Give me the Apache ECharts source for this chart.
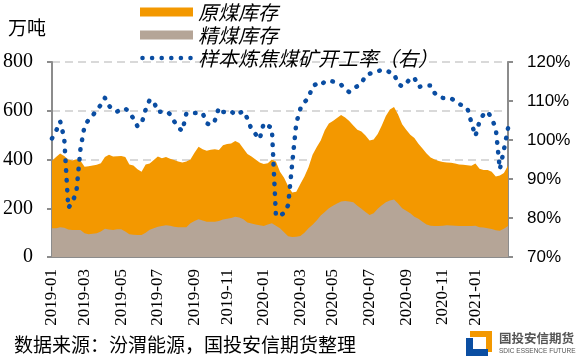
<!DOCTYPE html>
<html>
<head>
<meta charset="utf-8">
<script src="https://cdn.jsdelivr.net/npm/echarts@6/dist/echarts.min.js"></script>
<style>
html,body{margin:0;padding:0;background:#fff;}
#c{width:576px;height:363px;}
</style>
</head>
<body>
<div id="c"></div>
<script>
// weekly dates
var dates = [
'2019-01-04','2019-01-11','2019-01-18','2019-01-25','2019-02-01','2019-02-08','2019-02-15','2019-02-22',
'2019-03-01','2019-03-08','2019-03-15','2019-03-22','2019-03-29','2019-04-05','2019-04-12','2019-04-19','2019-04-26',
'2019-05-03','2019-05-10','2019-05-17','2019-05-24','2019-05-31','2019-06-07','2019-06-14','2019-06-21','2019-06-28',
'2019-07-05','2019-07-12','2019-07-19','2019-07-26','2019-08-02','2019-08-09','2019-08-16','2019-08-23','2019-08-30',
'2019-09-06','2019-09-13','2019-09-20','2019-09-27','2019-10-04','2019-10-11','2019-10-18','2019-10-25',
'2019-11-01','2019-11-08','2019-11-15','2019-11-22','2019-11-29','2019-12-06','2019-12-13','2019-12-20','2019-12-27',
'2020-01-03','2020-01-10','2020-01-17','2020-01-24','2020-01-31','2020-02-07','2020-02-14','2020-02-21','2020-02-28',
'2020-03-06','2020-03-13','2020-03-20','2020-03-27','2020-04-03','2020-04-10','2020-04-17','2020-04-24',
'2020-05-01','2020-05-08','2020-05-15','2020-05-22','2020-05-29','2020-06-05','2020-06-12','2020-06-19','2020-06-26',
'2020-07-03','2020-07-10','2020-07-17','2020-07-24','2020-07-31','2020-08-07','2020-08-14','2020-08-21','2020-08-28',
'2020-09-04','2020-09-11','2020-09-18','2020-09-25','2020-10-02','2020-10-09','2020-10-16','2020-10-23','2020-10-30',
'2020-11-06','2020-11-13','2020-11-20','2020-11-27','2020-12-04','2020-12-11','2020-12-18','2020-12-25',
'2021-01-01','2021-01-08','2021-01-15','2021-01-22','2021-01-29','2021-02-05','2021-02-12','2021-02-19','2021-02-26'
];
// 原煤库存 (万吨)
var rawCoal = [
395,410,425,414,400,396,401,395,370,372,375,378,385,410,420,412,413,414,410,380,375,360,350,380,384,398,412,405,410,403,
398,392,388,392,400,428,452,442,436,440,442,439,458,464,466,476,468,445,423,412,400,388,382,385,400,392,350,325,290,265,
268,300,330,368,420,450,478,520,548,558,570,583,572,558,540,522,515,498,478,482,505,540,578,605,615,585,545,522,502,488,
465,445,425,408,400,394,390,388,387,384,380,378,376,374,384,362,357,357,350,330,334,345,375
];
// 精煤库存 (万吨)
var cleanCoal = [
118,118,122,120,113,111,111,111,97,93,95,97,105,116,113,111,114,114,105,93,91,90,90,100,112,118,124,127,130,128,
124,122,122,122,138,148,155,150,145,145,145,148,154,157,160,165,162,155,142,137,133,130,127,133,138,128,118,102,85,82,
83,86,100,118,132,150,170,185,200,210,220,228,230,228,225,210,198,185,172,180,198,212,225,232,236,220,200,190,180,165,
157,145,133,128,127,127,128,130,129,128,127,127,127,127,128,122,121,118,115,110,108,116,127
];
// 样本炼焦煤矿开工率 (%)
var rate = [
100.4,102.3,104.8,100.5,82.6,84.0,86.8,97.8,103.6,105.2,106.3,107.7,109.0,110.8,108.8,107.6,107.3,107.8,108.1,107.1,
105.5,103.5,104.2,107.8,110.3,109.9,107.2,107.3,107.4,106.6,104.8,103.2,102.3,106.8,107.0,106.9,106.9,106.9,104.3,103.8,
105.0,108.3,107.2,107.1,107.4,106.4,106.9,107.4,105.5,102.7,101.5,100.2,104.3,103.7,103.1,80.5,80.6,81.3,83.3,94.0,
104.3,108.0,109.7,110.8,113.8,114.4,114.0,115.0,115.2,115.0,114.6,114.2,113.0,112.3,113.2,113.8,114.5,116.5,117.0,117.3,
117.6,118.0,117.8,117.4,117.0,114.4,113.7,114.5,115.8,116.0,113.6,113.8,114.0,114.0,112.0,111.0,110.8,110.8,110.7,110.0,
109.2,108.8,108.2,104.5,101.0,104.8,106.6,107.3,105.5,103.0,92.5,97.5,103.0
];
var leftTicks = [0, 800, 200];
var rightTicks = [70, 120, 10];
var names = ['原煤库存', '精煤库存', '样本炼焦煤矿开工率（右）'];
var sourceText = '数据来源：汾渭能源，国投安信期货整理';

var ORANGE = '#F39800', BROWN = '#B5A597', BLUE = '#0A4DA2', AXIS = '#8C8C8C';

// legend icon: a row of six round dots (box 53 x 9)
function dotsIcon() {
  var r = 2.3, p = 'M0 0h0.01v0.01zM52.99 8.99h0.01v0.01z';
  for (var k = 0; k < 6; k++) {
    var cx = 2.5 + k * 9.6;
    p += 'M' + (cx - r) + ' 4.5a' + r + ' ' + r + ' 0 1 0 ' + (2 * r) + ' 0a' + r + ' ' + r + ' 0 1 0 ' + (-2 * r) + ' 0z';
  }
  return 'path://' + p;
}

var chart = echarts.init(document.getElementById('c'), null, {renderer: 'canvas'});
var cjk = '"Noto Sans CJK SC", sans-serif';
chart.setOption({
  animation: false,
  backgroundColor: '#fff',
  grid: {left: 52, right: 68, top: 62, bottom: 106, containLabel: false},
  legend: {
    orient: 'vertical', left: 140, top: 1, padding: 0,
    itemWidth: 53, itemHeight: 9, itemGap: 1,
    textStyle: {fontSize: 20, lineHeight: 22, fontStyle: 'italic', color: '#000', fontFamily: cjk},
    data: [
      {name: names[0], icon: 'rect'},
      {name: names[1], icon: 'rect'},
      {name: names[2], icon: dotsIcon(), itemStyle: {color: BLUE, borderWidth: 0}}
    ]
  },
  xAxis: {
    type: 'category', data: dates, boundaryGap: false,
    axisLine: {lineStyle: {color: AXIS, width: 2}},
    axisTick: {show: false},
    axisLabel: {
      rotate: 90, margin: 12, fontSize: 17, color: '#000', fontFamily: '"Liberation Serif", serif',
      interval: function (i, v) {
        var m = +v.slice(5, 7), d = +v.slice(8, 10);
        return (m % 2 === 1) && d <= 7;
      },
      formatter: function (v) { return v.slice(0, 7); }
    },
    splitLine: {show: false}
  },
  yAxis: [{
    type: 'value', min: leftTicks[0], max: leftTicks[1], interval: leftTicks[2],
    axisLine: {show: true, lineStyle: {color: AXIS, width: 2}},
    axisTick: {show: true, length: 5, lineStyle: {color: AXIS, width: 2}},
    axisLabel: {margin: 19, fontSize: 20, color: '#000', fontFamily: '"Liberation Serif", serif'},
    splitLine: {show: true, lineStyle: {color: '#D9D9D9', width: 2, type: [8, 5]}}
  }, {
    type: 'value', min: rightTicks[0], max: rightTicks[1], interval: rightTicks[2],
    position: 'right',
    axisLine: {show: true, lineStyle: {color: AXIS, width: 2}},
    axisTick: {show: true, length: 5, lineStyle: {color: AXIS, width: 2}},
    axisLabel: {margin: 19, fontSize: 17, color: '#000', fontFamily: '"Liberation Sans", sans-serif', formatter: '{value}%'},
    splitLine: {show: false}
  }],
  series: [{
    name: names[0], type: 'line', data: rawCoal, yAxisIndex: 0,
    showSymbol: false, symbol: 'none', z: 1,
    itemStyle: {color: ORANGE},
    lineStyle: {width: 0, color: ORANGE},
    areaStyle: {color: ORANGE, opacity: 1}
  }, {
    name: names[1], type: 'line', data: cleanCoal, yAxisIndex: 0,
    showSymbol: false, symbol: 'none', z: 2,
    itemStyle: {color: BROWN},
    lineStyle: {width: 0, color: BROWN},
    areaStyle: {color: BROWN, opacity: 1}
  }, {
    name: names[2], type: 'line', data: rate, yAxisIndex: 1,
    showSymbol: false, symbol: 'none', z: 3,
    itemStyle: {color: BLUE},
    lineStyle: {color: BLUE, width: 4.5, type: [0.5, 9.3], cap: 'round', join: 'round'}
  }],
  graphic: [
    {type: 'text', left: 8, top: 18, style: {text: '万吨', fill: '#000', font: '19px ' + cjk}},
    {type: 'text', left: 14, top: 335, style: {text: sourceText, fill: '#000', font: '19px ' + cjk}},
    {type: 'polygon', shape: {points: [[470, 331], [492, 331], [492, 352], [486, 352], [486, 337], [470, 337]]}, style: {fill: ORANGE}},
    {type: 'polygon', shape: {points: [[466, 338], [473, 338], [473, 349], [488, 349], [488, 356], [466, 356]]}, style: {fill: '#0B4EA2'}},
    {type: 'text', left: 499, top: 332, style: {text: '国投安信期货', fill: '#555', font: 'bold 12.5px ' + cjk}},
    {type: 'text', left: 499, top: 348, style: {text: 'SDIC ESSENCE FUTURES', fill: '#555', font: '6.5px "Liberation Sans", sans-serif'}}
  ]
});
</script>
</body>
</html>
